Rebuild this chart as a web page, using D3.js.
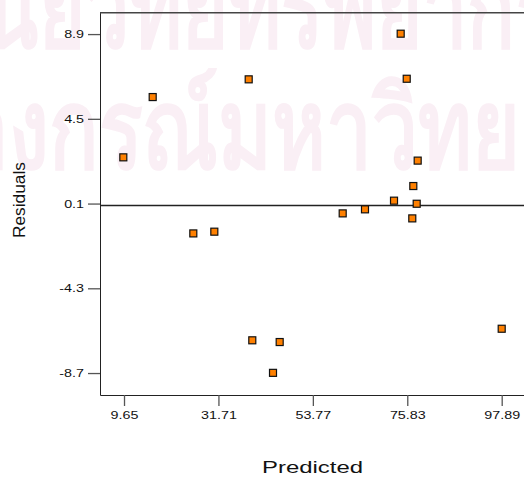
<!DOCTYPE html>
<html>
<head>
<meta charset="utf-8">
<script src="https://cdn.jsdelivr.net/npm/d3@7"></script>
<style>
  body { margin: 0; background: #fff; }
  svg { display: block; font-family: "Liberation Sans", Arial, sans-serif; }
</style>
</head>
<body>
<svg width="524" height="480"></svg>
<script>
// data
var predicted = [74.29, 38.78, 75.70, 16.35, 9.49, 78.26, 77.24, 72.73, 78.03,
                 60.74, 65.95, 77.00, 25.84, 30.75, 39.62, 46.02, 44.46, 97.89];
var residuals = [8.92, 6.55, 6.58, 5.63, 2.50, 2.33, 1.01, 0.25, 0.09,
                 -0.41, -0.20, -0.67, -1.45, -1.36, -7.00, -7.09, -8.69, -6.40];
var xTicks = [9.65, 31.71, 53.77, 75.83, 97.89];
var yTicks = [-8.7, -4.3, 0.1, 4.5, 8.9];

var svg = d3.select("svg"),
    width = +svg.attr("width"),
    height = +svg.attr("height");

// plot box
var mLeft = 100, mTop = 12.7, mBottom = 395, mRight = 524;

var x = d3.scaleLinear().domain([4.04, 103.1]).range([mLeft, mRight]);
var y = d3.scaleLinear().domain([-9.84, 10.01]).range([mBottom, mTop]);

// faint watermark behind everything
var wm = svg.append("g").attr("fill", "#faeff5").attr("font-weight", "bold");
wm.append("text")
    .attr("x", -66).attr("y", 47)
    .attr("font-size", 112)
    .attr("textLength", 624).attr("lengthAdjust", "spacingAndGlyphs")
    .text("ศูนย์วิทยทรัพยากร");
wm.append("text")
    .attr("x", -192).attr("y", 168)
    .attr("font-size", 112)
    .attr("textLength", 857).attr("lengthAdjust", "spacingAndGlyphs")
    .text("จุฬาลงกรณ์มหาวิทยาลัย");

// top border
svg.append("line")
    .attr("x1", mLeft).attr("x2", mRight)
    .attr("y1", mTop).attr("y2", mTop)
    .attr("stroke", "#444").attr("stroke-width", 1.5);

// zero line
svg.append("line")
    .attr("x1", mLeft).attr("x2", mRight)
    .attr("y1", y(0)).attr("y2", y(0))
    .attr("stroke", "#222").attr("stroke-width", 1.5);

// axes
var xAxis = svg.append("g")
    .attr("transform", "translate(0," + mBottom + ")")
    .call(d3.axisBottom(x).tickValues(xTicks).tickFormat(d3.format(".2f"))
        .tickSize(11).tickPadding(5).tickSizeOuter(0));
var yAxis = svg.append("g")
    .attr("transform", "translate(" + mLeft + ",0)")
    .call(d3.axisLeft(y).tickValues(yTicks).tickFormat(d3.format(".1f"))
        .tickSize(12).tickPadding(4).tickSizeOuter(0));

[xAxis, yAxis].forEach(function (g) {
  g.select(".domain").attr("stroke", "#222");
  g.selectAll(".tick line").attr("stroke", "#555").attr("stroke-width", 1.3);
  g.selectAll(".tick text")
      .attr("font-family", "Liberation Sans, Arial, sans-serif")
      .attr("font-size", 11)
      .attr("fill", "#111")
      .text(function (d) { return String(d); })
      .each(function () {
        // the original labels are drawn wide
        var w = this.getComputedTextLength();
        d3.select(this).attr("textLength", w * 1.3).attr("lengthAdjust", "spacingAndGlyphs");
      });
});

// axis titles
svg.append("text")
    .attr("x", 312.5).attr("y", 473.3)
    .attr("text-anchor", "middle")
    .attr("font-size", 17)
    .attr("fill", "#111")
    .attr("textLength", 101).attr("lengthAdjust", "spacingAndGlyphs")
    .text("Predicted");
svg.append("text")
    .attr("transform", "translate(25,200) rotate(-90)")
    .attr("text-anchor", "middle")
    .attr("font-size", 17)
    .attr("fill", "#111")
    .attr("textLength", 76).attr("lengthAdjust", "spacingAndGlyphs")
    .text("Residuals");

// points
var s = 7;
svg.append("g")
    .selectAll("rect")
    .data(predicted)
    .enter().append("rect")
      .attr("x", function (d) { return x(d) - s / 2; })
      .attr("y", function (d, i) { return y(residuals[i]) - s / 2; })
      .attr("width", s)
      .attr("height", s)
      .attr("fill", "#ff8000")
      .attr("stroke", "#111")
      .attr("stroke-width", 1.2);
</script>
</body>
</html>
